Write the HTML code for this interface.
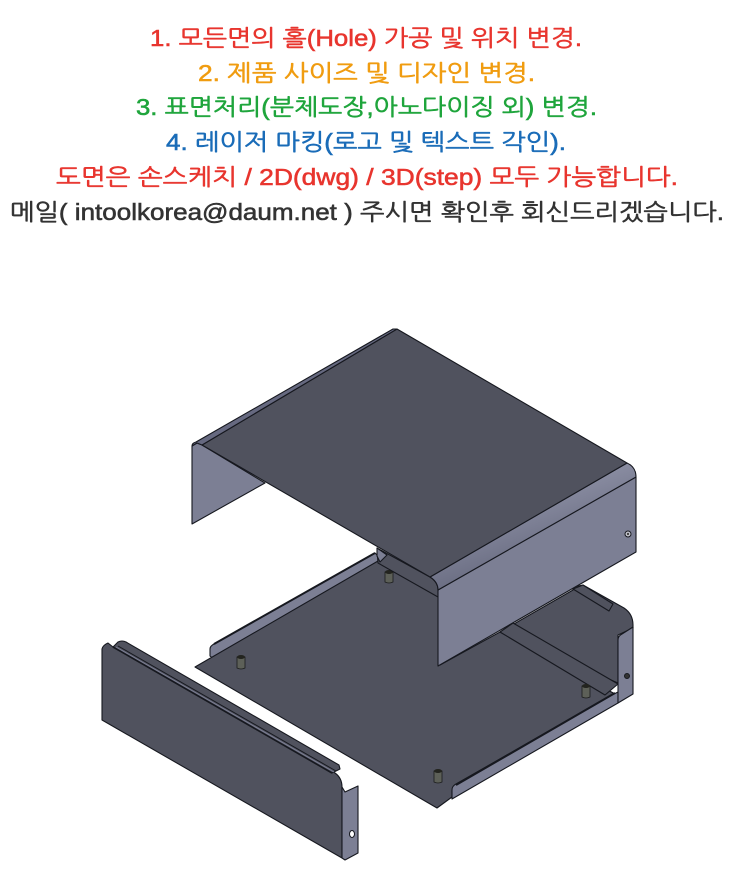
<!DOCTYPE html>
<html><head><meta charset="utf-8"><style>
html,body{margin:0;padding:0;background:#fff}
svg{display:block}
text{font-family:"Liberation Sans","NanumGothic","Noto Sans CJK KR",sans-serif;font-size:23px;font-weight:normal;stroke-width:.55px}
.k{stroke:#16181f;stroke-width:1.1;stroke-linejoin:round}
.d{fill:#50525e}
.l{fill:#7c7f94}
.m{fill:#666980}
</style></head><body>
<svg width="745" height="889" viewBox="0 0 745 889" xmlns="http://www.w3.org/2000/svg">
<defs><linearGradient id="b" x1="0" y1="0" x2="0.45" y2="0.8"><stop offset="0" stop-color="#50525e"/><stop offset=".5" stop-color="#8a8da2"/><stop offset="1" stop-color="#6a6d82"/></linearGradient></defs>
<text x="150" y="46" textLength="432" lengthAdjust="spacingAndGlyphs" fill="#e8352e" stroke="#e8352e">1. 모든면의 홀(Hole) 가공 및 위치 변경.</text>
<text x="198" y="81" textLength="337" lengthAdjust="spacingAndGlyphs" fill="#f09c10" stroke="#f09c10">2. 제품 사이즈 및 디자인 변경.</text>
<text x="136" y="115" textLength="461" lengthAdjust="spacingAndGlyphs" fill="#1fa53c" stroke="#1fa53c">3. 표면처리(분체도장,아노다이징 외) 변경.</text>
<text x="166" y="150" textLength="400" lengthAdjust="spacingAndGlyphs" fill="#1a6cb8" stroke="#1a6cb8">4. 레이저 마킹(로고 및 텍스트 각인).</text>
<text x="56" y="185" textLength="622" lengthAdjust="spacingAndGlyphs" fill="#e8352e" stroke="#e8352e">도면은 손스케치 / 2D(dwg) / 3D(step) 모두 가능합니다.</text>
<text x="10" y="220" textLength="714" lengthAdjust="spacingAndGlyphs" fill="#333" stroke="#333">메일( intoolkorea@daum.net ) 주시면 확인후 회신드리겠습니다.</text>

<!-- base: back panel -->
<path class="k d" d="M573 587L583 585L624 608Q633 614 633 625V628L618 635V683L500 632L573 590Z"/>
<path class="k d" d="M573 589L583 585L613 604L609 611Z"/>
<!-- base plate -->
<path class="k l" d="M210 656V649Q210 646 214 644L375 553L378 556V565L215 660Z"/>
<path d="M214 644L375 553" stroke="#16181f" stroke-width="2" fill="none"/>
<path class="k d" d="M195 667L378 561L440 597V665L500 632L617 695V700L452 790V797L437 808Z"/>
<path class="k d" d="M500 632L513 623L618 684L605 695Z"/>
<path class="k l" d="M452 799V790Q452 786 456 784L612 695L618 692V703Z"/>
<path d="M456 785L615 693" stroke="#16181f" stroke-width="2" fill="none"/>
<path class="k l" d="M618 640Q618 636 622 634L633 627V694L618 703Z"/>
<circle cx="627" cy="676" r="2.5" fill="#333" stroke="#16181f"/>
<!-- standoffs -->
<g fill="#5d6058" stroke="#1b1c1c" stroke-width=".8">
<path d="M385 572h8v10q-4 2-8 0z"/><path d="M237 657h8v11q-4 2-8 0z"/><path d="M582 686h8v11q-4 2-8 0z"/><path d="M434 771h8v11q-4 2-8 0z"/>
</g>
<g fill="#23241f"><ellipse cx="389" cy="572" rx="4" ry="2"/><ellipse cx="241" cy="657" rx="4" ry="2"/><ellipse cx="586" cy="686" rx="4" ry="2"/><ellipse cx="438" cy="771" rx="4" ry="2"/></g>

<!-- cover -->
<path class="k l" d="M192 446V524L265 483L202 445L197 443Z"/>
<path class="k d" d="M377 548L430 577Q438 582 438 590V597L378 563Z"/>
<path class="k l" d="M377 548V556L380 562L387 555Z"/>
<path d="M380 556L438 590" stroke="#16181f" stroke-width="0" fill="none"/>
<path class="k l" d="M438 590L636 477V552L438 666Z"/>
<path class="k" fill="url(#b)" d="M430 577L627 463Q636 467 636 477L438 590Q438 582 430 577Z"/>
<path class="k d" d="M202 445L397 329L627 463L430 577Z"/>
<path class="k m" d="M192 446Q192 443 196 442L393 329H397L202 445L197 443Z"/>
<circle cx="628" cy="534" r="3" fill="#c8c9d2" stroke="#16181f"/>
<circle cx="628" cy="534" r="1.2" fill="#444"/>

<!-- front panel -->
<path class="k d" d="M102 720V649Q103 645 108 643L113 647L335 773Q342 778 342 787V858Z"/>
<path class="k d" d="M113 647L118 642Q122 640 126 642L339 765L340 769L332 773Z"/>
<path d="M113 647L332 773" stroke="#16181f" stroke-width="1.6" fill="none"/>
<path d="M116 647L334 772" stroke="#7c7f94" stroke-width="1" fill="none"/>
<path d="M118 646L336 771" stroke="#16181f" stroke-width="1" fill="none"/>
<path class="k l" d="M342 787L345 792L358 786V853L345 860L342 858Z"/>
<ellipse cx="352" cy="834" rx="2.5" ry="3.5" fill="#fff" stroke="#16181f"/>
</svg>
</body></html>
